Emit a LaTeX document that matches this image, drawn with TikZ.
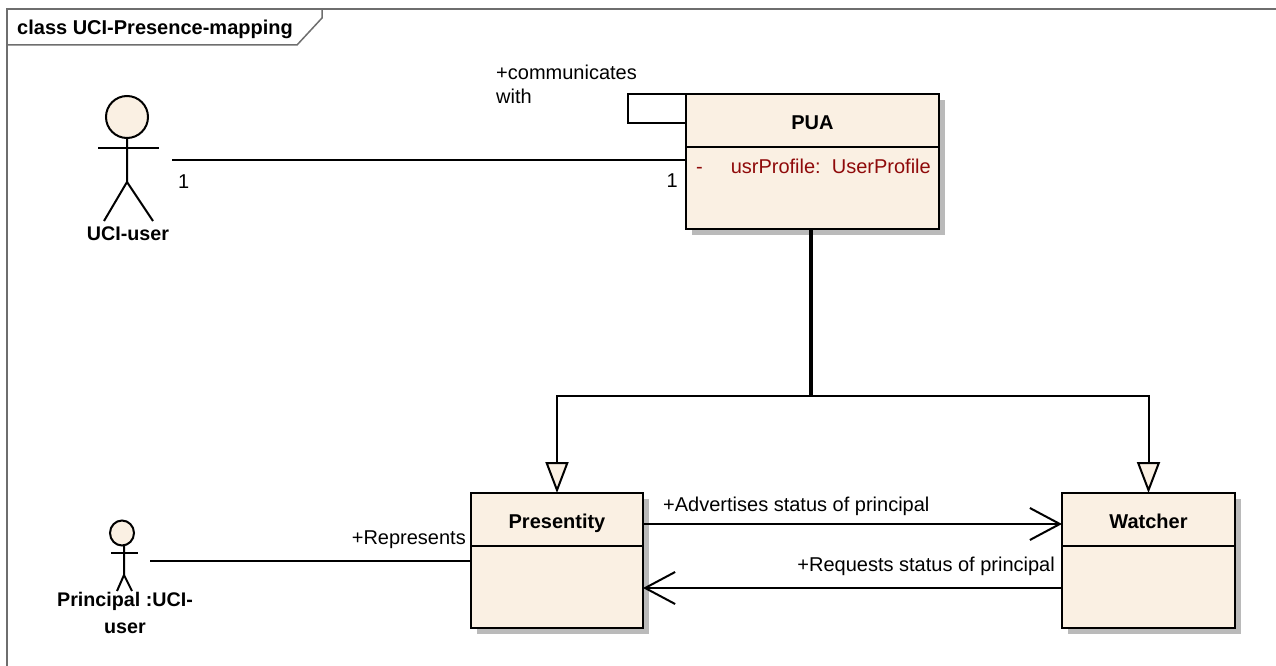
\documentclass[tikz,border=0pt]{standalone}
\usepackage{fontspec}
\setmainfont{Liberation Sans}
\usetikzlibrary{positioning,arrows.meta,shadows,shapes.geometric}

\definecolor{cream}{HTML}{FAF0E3}
\definecolor{attrred}{HTML}{8F0A0A}
\definecolor{framegray}{HTML}{6E6E6E}

\tikzset{
    classbox/.style = {draw, line width=2pt, fill=cream, minimum height=135pt, outer sep=0pt,
        drop shadow={shadow xshift=6pt, shadow yshift=-6pt, fill=black!27, opacity=1}},
    classname/.style = {font=\fontsize{20}{24}\selectfont\bfseries, anchor=base, inner sep=0pt},
    txt/.style = {font=\fontsize{20}{24}\selectfont, inner sep=0pt},
    actorname/.style = {font=\fontsize{19.7}{27}\selectfont\bfseries, inner sep=0pt, align=center},
    head/.style = {ellipse, draw, line width=2pt, fill=cream, inner sep=0pt, outer sep=0pt},
    ln/.style = {line width=2pt},
    assoc/.style = {line width=2pt, -{Straight Barb[length=30pt,width=32pt,line width=2pt]}},
    gen/.style = {line width=2pt, -{Triangle[length=31pt,width=23pt,fill=cream,line width=2pt]}}
}

\begin{document}
\begin{tikzpicture}[x=1pt, y=-1pt]
    \useasboundingbox (0,0) rectangle (1276,666);

    % frame
    \draw[framegray, line width=2pt] (7,666) -- (7,9) -- (1276,9);
    \draw[framegray, line width=1.5pt] (7,45) -- (297,45) -- (322,18) -- (322,9);
    \node [anchor=west, inner sep=0pt, font=\fontsize{20}{24}\selectfont\bfseries] (title) at (17,29) {class UCI-Presence-mapping};

    % classes
    \node [classbox, minimum width=253pt] (pua) at (812.5,161.5) {};
    \node [classbox, minimum width=172pt] (presentity) at (557,560.5) {};
    \node [classbox, minimum width=173pt, right=419pt of presentity] (watcher) {};

    \foreach \c/\t in {pua/PUA, presentity/Presentity, watcher/Watcher} {
        \draw[ln] ([yshift=-52.5pt]\c.north west) -- ([yshift=-52.5pt]\c.north east);
        \node [classname] (\c name) at ([yshift=-35.5pt]\c.north) {\t};
    }
    \node [txt, text=attrred, anchor=base west] (attrminus) at (696,173) {-};
    \node [txt, text=attrred, anchor=base east] (attr) at (931,173) {usrProfile:\ \ UserProfile};

    % big actor
    \node [head, minimum width=42pt, minimum height=42pt] (userhead) at (127,117) {};
    \draw[ln] (userhead.south) -- ++(0,44) coordinate (userhip) -- ++(-23,39);
    \draw[ln] (userhip) -- ++(26,39);
    \draw[ln] (98,148) -- (159,148);
    \node [actorname] (username) at (128,234) {UCI-user};

    % small actor
    \node [head, minimum width=24pt, minimum height=25pt] (princhead) at (122,533) {};
    \draw[ln] (124,546) -- (124,575) coordinate (princhip) -- ++(-7,16);
    \draw[ln] (princhip) -- ++(8,16);
    \draw[ln] (111,553) -- (138,553);
    \node [actorname] (princname) at (125,613) {Principal :UCI-\\user};

    % associations
    \coordinate (userend) at (172,160);
    \coordinate (princend) at (150,561);
    \draw[ln] (userend) -- (userend -| pua.west);
    \draw[ln] (princend) -- (princend -| presentity.west);
    \draw[ln] (pua.north west) -- ++(-58,0) -- ++(0,29) -- ++(58,0);
    \draw[assoc] ([yshift=36.5pt]presentity.east) -- ([yshift=36.5pt]watcher.west);
    \draw[assoc] ([yshift=-27.5pt]watcher.west) -- ([yshift=-27.5pt]presentity.east);

    % generalizations
    \coordinate (fork) at (811,396);
    \draw[line width=4pt] (fork |- pua.south) -- (fork);
    \draw[gen] (fork) -| (presentity.north);
    \draw[gen] (fork) -| (watcher.north);

    % labels
    \node [txt, anchor=west] (mult1) at (178,182) {1};
    \node [txt, anchor=east] (mult2) at (678,181) {1};
    \node [txt, anchor=north west, align=left] (commlabel) at (496,65) {+communicates\\with};
    \node [txt, anchor=east] (replabel) at (466,540) {+Represents};
    \node [txt, anchor=west] (advlabel) at (663,506) {+Advertises status of principal};
    \node [txt, anchor=east] (reqlabel) at (1055,566) {+Requests status of principal};
\end{tikzpicture}
\end{document}
